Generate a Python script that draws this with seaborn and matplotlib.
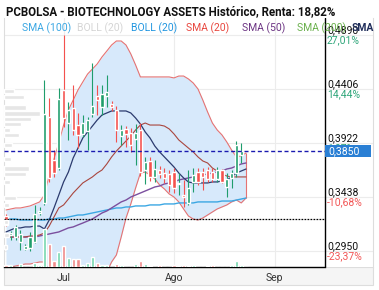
import numpy as np
import matplotlib
matplotlib.use('Agg')
import matplotlib.pyplot as plt
import seaborn as sns
from matplotlib.patches import Rectangle
from matplotlib.transforms import blended_transform_factory

# Sesiones (una por posicion), precios en euros
open_ = [0.3268, 0.3098, 0.3080, 0.3035, 0.2972, 0.2981, 0.3035, 0.3295, 0.3385, 0.4155,
         0.3770, 0.3698, 0.4397, 0.4101, 0.4236, 0.4083, 0.4003, 0.4030, 0.4182, 0.4343,
         0.4245, 0.4343, 0.4272, 0.4218, 0.3985, 0.4048, 0.4012, 0.3958, 0.4039, 0.3680,
         0.3761, 0.3618, 0.3680, 0.3653, 0.3644, 0.3662, 0.3555, 0.3456, 0.3385, 0.3573,
         0.3662, 0.3662, 0.3680, 0.3662, 0.3600, 0.3680, 0.3528, 0.3609, 0.3653, 0.3815,
         0.3850]
close = [0.3187, 0.3116, 0.3170, 0.3107, 0.2999, 0.3080, 0.3286, 0.3313, 0.4182, 0.3609,
         0.3653, 0.4316, 0.4146, 0.4218, 0.4039, 0.3994, 0.4101, 0.4128, 0.4254, 0.4307,
         0.4361, 0.4379, 0.4245, 0.4039, 0.4039, 0.4003, 0.3904, 0.4012, 0.3662, 0.3752,
         0.3618, 0.3689, 0.3644, 0.3609, 0.3546, 0.3519, 0.3564, 0.3438, 0.3519, 0.3635,
         0.3573, 0.3618, 0.3600, 0.3600, 0.3680, 0.3573, 0.3600, 0.3653, 0.3904, 0.3850,
         0.3850]
high = [0.3286, 0.3134, 0.3187, 0.3143, 0.3017, 0.3125, 0.3367, 0.3349, 0.4487, 0.4325,
        0.3859, 0.4415, 0.4890, 0.4290, 0.4442, 0.4191, 0.4173, 0.4155, 0.4639, 0.4442,
        0.4442, 0.4531, 0.4298, 0.4254, 0.4083, 0.4075, 0.4057, 0.4092, 0.4101, 0.3797,
        0.3797, 0.3770, 0.3716, 0.3698, 0.3680, 0.3698, 0.3653, 0.3591, 0.3680, 0.3698,
        0.3698, 0.3698, 0.3707, 0.3698, 0.3707, 0.3689, 0.3653, 0.3680, 0.3940, 0.3922,
        0.3850]
low = [0.3178, 0.3053, 0.3053, 0.2963, 0.2963, 0.2954, 0.3026, 0.3277, 0.3367, 0.3573,
       0.3618, 0.3680, 0.4066, 0.3949, 0.3994, 0.3877, 0.3976, 0.3859, 0.4155, 0.4173,
       0.4173, 0.4245, 0.4209, 0.3931, 0.3904, 0.3886, 0.3842, 0.3725, 0.3627, 0.3555,
       0.3582, 0.3573, 0.3609, 0.3564, 0.3483, 0.3474, 0.3456, 0.3349, 0.3367, 0.3483,
       0.3546, 0.3501, 0.3573, 0.3573, 0.3573, 0.3564, 0.3438, 0.3519, 0.3618, 0.3743,
       0.3850]
# volumen (miles de titulos)
volume = [17, 17, 0, 33, 0, 0, 43, 17, 377, 233,
          60, 150, 210, 93, 83, 83, 23, 43, 100, 43,
          23, 23, 0, 33, 23, 0, 0, 33, 63, 33,
          13, 0, 23, 0, 0, 23, 13, 23, 13, 23,
          0, 0, 13, 23, 0, 0, 0, 23, 63, 23,
          0]

# medias moviles y bandas de Bollinger
sma_fast = [0.3125, 0.3143, 0.3161, 0.3161, 0.3170, 0.3170, 0.3178, 0.3178, 0.3152, 0.3232,
            0.3340, 0.3456, 0.3573, 0.3662, 0.3788, 0.3877, 0.3967, 0.4021, 0.4074, 0.4128,
            0.4173, 0.4191, 0.4209, 0.4209, 0.4209, 0.4209, 0.4191, 0.4146, 0.4092, 0.4021,
            0.3967, 0.3895, 0.3842, 0.3797, 0.3752, 0.3707, 0.3653, 0.3609, 0.3573, 0.3564,
            0.3564, 0.3564, 0.3564, 0.3573, 0.3573, 0.3582, 0.3591, 0.3618, 0.3653, 0.3671,
            0.3689]
sma20 = [0.3080, 0.3080, 0.3080, 0.3080, 0.3080, 0.3089, 0.3089, 0.3098, 0.3116, 0.3178,
         0.3259, 0.3340, 0.3367, 0.3420, 0.3474, 0.3519, 0.3564, 0.3591, 0.3618, 0.3653,
         0.3680, 0.3734, 0.3797, 0.3850, 0.3895, 0.3940, 0.3985, 0.4039, 0.4083, 0.4101,
         0.4083, 0.4083, 0.4083, 0.4074, 0.4048, 0.4003, 0.3949, 0.3913, 0.3877, 0.3842,
         0.3797, 0.3761, 0.3743, 0.3698, 0.3671, 0.3644, 0.3626, 0.3618, 0.3618, 0.3618,
         0.3618]
sma50 = [0.3080, 0.3080, 0.3080, 0.3080, 0.3080, 0.3080, 0.3080, 0.3089, 0.3098, 0.3107,
         0.3116, 0.3125, 0.3143, 0.3161, 0.3170, 0.3188, 0.3205, 0.3223, 0.3241, 0.3268,
         0.3295, 0.3313, 0.3340, 0.3367, 0.3394, 0.3411, 0.3438, 0.3456, 0.3474, 0.3492,
         0.3510, 0.3528, 0.3537, 0.3555, 0.3564, 0.3573, 0.3591, 0.3600, 0.3609, 0.3618,
         0.3627, 0.3636, 0.3644, 0.3653, 0.3662, 0.3671, 0.3689, 0.3698, 0.3716, 0.3734,
         0.3743]
sma100 = [0.3241, 0.3241, 0.3241, 0.3232, 0.3232, 0.3232, 0.3232, 0.3232, 0.3232, 0.3241,
          0.3241, 0.3250, 0.3250, 0.3259, 0.3268, 0.3277, 0.3277, 0.3286, 0.3295, 0.3304,
          0.3313, 0.3322, 0.3331, 0.3340, 0.3340, 0.3349, 0.3349, 0.3358, 0.3358, 0.3358,
          0.3367, 0.3367, 0.3367, 0.3376, 0.3376, 0.3376, 0.3385, 0.3385, 0.3385, 0.3385,
          0.3394, 0.3394, 0.3394, 0.3394, 0.3394, 0.3402, 0.3402, 0.3402, 0.3411, 0.3420,
          0.3429]
boll_up = [0.3322, 0.3331, 0.3340, 0.3340, 0.3349, 0.3358, 0.3376, 0.3394, 0.3456, 0.3636,
           0.3779, 0.3922, 0.4083, 0.4218, 0.4307, 0.4397, 0.4469, 0.4540, 0.4585, 0.4630,
           0.4693, 0.4746, 0.4800, 0.4836, 0.4836, 0.4800, 0.4720, 0.4621, 0.4514, 0.4514,
           0.4514, 0.4514, 0.4514, 0.4514, 0.4514, 0.4505, 0.4522, 0.4522, 0.4496, 0.4460,
           0.4406, 0.4307, 0.4200, 0.4101, 0.4039, 0.3994, 0.3931, 0.3859, 0.3797, 0.3806,
           0.3833]
boll_low = [0.2802, 0.2811, 0.2820, 0.2829, 0.2838, 0.2838, 0.2847, 0.2856, 0.2856, 0.2748,
            0.2730, 0.2713, 0.2659, 0.2632, 0.2632, 0.2641, 0.2650, 0.2650, 0.2650, 0.2668,
            0.2677, 0.2766, 0.2856, 0.2919, 0.3080, 0.3250, 0.3376, 0.3519, 0.3653, 0.3662,
            0.3636, 0.3600, 0.3546, 0.3510, 0.3465, 0.3438, 0.3394, 0.3331, 0.3268, 0.3241,
            0.3232, 0.3250, 0.3277, 0.3304, 0.3331, 0.3349, 0.3367, 0.3394, 0.3411, 0.3385,
            0.3429]

# perfil de volumen por precio (lateral izquierdo)
profile_price = [0.4388, 0.4334, 0.4240, 0.4186, 0.4137, 0.4092, 0.4039, 0.3994, 0.3904,
                 0.3779, 0.3694, 0.3644, 0.3573, 0.3430, 0.3367, 0.3214, 0.3098, 0.2990]
profile_vol = [10, 20, 22, 36, 27, 17, 6, 15, 8, 7, 25, 22, 6, 12, 5, 4, 5, 3]

price_ticks = [0.2950, 0.3438, 0.3922, 0.4406, 0.4890]
price_labels = ['0,2950', '0,3438', '0,3922', '0,4406', '0,4890']
pct_labels = ['-23,37%', '-10,68%', '1,87%', '14,44%', '27,01%']
month_idx = [12, 35, 56]
month_labels = ['Jul', 'Ago', 'Sep']
last_price = 0.3850
start_price = 0.3240

title = 'PCBOLSA - BIOTECHNOLOGY ASSETS Histórico, Renta: 18,82%'
legend_labels = ['SMA (100)', 'BOLL (20)', 'BOLL (20)', 'SMA (20)', 'SMA (50)', 'SMA (200)', 'SMA']
legend_colors = ['#3ba7e3', '#d5d5d5', '#2196e0', '#e8473f', '#6c3483', '#6ab04c', '#1f2d5a']

sns.set_style('white')
plt.rcParams['font.family'] = ['Roboto', 'DejaVu Sans']

W, H = 379, 290
def fx(px):
    return px / W
def fy(py):
    return 1 - py / H

fig = plt.figure(figsize=(W / 100, H / 100), dpi=100)
ax = fig.add_axes([fx(4), fy(267), fx(373) - fx(4), fy(18) - fy(267)])

k = np.arange(len(close))
step = 4.8                      # pixeles por sesion
x0 = (4 - 6) / step
k_end = (325 - 6) / step        # borde derecho de la zona de precios
ax.set_xlim(x0, (373 - 6) / step)
ax.set_ylim(0.2811, 0.5042)

# rejilla
ax.set_yticks(price_ticks)
ax.set_xticks(month_idx, month_labels)
ax.grid(True, color='#ececec', lw=0.8)
ax.set_axisbelow(True)
ax.tick_params(axis='y', length=0, labelleft=False)
ax.tick_params(axis='x', length=0, pad=4, labelsize=7.5, labelcolor='#333333')

# bandas de Bollinger
ax.fill_between(k, boll_low, boll_up, color='#d7e9fb', lw=0, zorder=1)
ax.plot(k, boll_up, color='#e57373', lw=0.8, zorder=1.5)
ax.plot(k, boll_low, color='#e57373', lw=0.8, zorder=1.5)
ax.vlines(k[-1], boll_low[-1], boll_up[-1], color='#e57373', lw=0.8, zorder=1.5)

# medias moviles
sns.lineplot(x=k, y=sma100, ax=ax, color='#3ba7e3', lw=1, zorder=2)
sns.lineplot(x=k, y=sma50, ax=ax, color='#7b4f9e', lw=1, zorder=2)
sns.lineplot(x=k, y=sma20, ax=ax, color='#a9463e', lw=0.8, zorder=2)
sns.lineplot(x=k, y=sma_fast, ax=ax, color='#2c3b6e', lw=0.9, zorder=2)

# velas
o = np.array(open_)
c = np.array(close)
up = c >= o
cols = np.where(up, '#1f9d6c', '#f4514e')
ax.vlines(k, low, high, colors=cols, lw=0.8, zorder=3)
ax.bar(k, np.abs(c - o), bottom=np.minimum(o, c), width=0.66, color=cols, zorder=3)

# ultimo precio y precio inicial
ax.hlines(last_price, x0, k_end, colors='#1a1ab0', linestyles=(0, (2.9, 1.9)), lw=1, zorder=4)
ax.hlines(start_price, x0, k_end, colors='black', linestyles=(0, (1.4, 1)), lw=0.9, zorder=4)
ax.axvline(k_end, color='black', lw=1, zorder=4)

ax.spines['top'].set_visible(False)
ax.spines['left'].set_color('#dddddd')
ax.spines['right'].set_color('#dddddd')
ax.spines['left'].set_linewidth(0.8)
ax.spines['right'].set_linewidth(0.8)
ax.spines['bottom'].set_color('black')
ax.spines['bottom'].set_linewidth(1)
ax.spines['bottom'].set_bounds(x0, k_end)

# volumen
vax = ax.twinx()
vcols = np.where(up, '#74d6ad', '#f08a8a')
vax.bar(k, volume, width=0.66, color=vcols)
vax.set_ylim(0, max(volume) * 249 / 37.7)
vax.axis('off')

# perfil de volumen
pax = ax.inset_axes([0, 0, 1, 1])
pax.barh(profile_price, profile_vol, height=0.0042, color='#e6e6e6')
pax.set_xlim(0, max(profile_vol) * 369 / 36)
pax.set_ylim(ax.get_ylim())
pax.axis('off')
pax.patch.set_alpha(0)

# franja inferior
fig.add_artist(Rectangle((fx(4), fy(285)), fx(373) - fx(4), fy(267) - fy(285),
                         transform=fig.transFigure, fc='#f5f5f5', ec='#dddddd',
                         lw=0.8, zorder=-1))

# etiquetas de precio a la derecha
tr = blended_transform_factory(fig.transFigure, ax.transData)
for v, lab, pct in zip(price_ticks, price_labels, pct_labels):
    ax.text(fx(327), v, lab, transform=tr, va='bottom', ha='left', fontsize=7.5,
            color='#111111', clip_on=False, zorder=6)
    ax.text(fx(327), v, pct, transform=tr, va='top', ha='left', fontsize=7.5,
            color='#2fa67a' if not pct.startswith('-') else '#f25757', clip_on=False, zorder=6)

fig.add_artist(Rectangle((fx(325), fy(157)), fx(371) - fx(325), fy(145) - fy(157),
                         transform=fig.transFigure, fc='#2a7fd4', ec='none', zorder=10))
fig.text(fx(328), fy(151), '0,3850', color='white', fontsize=7.5, va='center', ha='left',
         zorder=11)

# titulo y leyenda
fig.text(fx(6), fy(12), title, fontsize=8.3, fontweight='bold', color='#111111',
         va='center', ha='left')
legend_x = [22, 77, 131, 186, 242, 297, 352]
for lx, lab, col in zip(legend_x, legend_labels, legend_colors):
    fig.text(fx(lx), fy(28), lab, fontsize=7.5, color=col, va='center', ha='left',
             fontweight='bold' if lab == 'SMA' else 'normal')

fig.savefig('out.png', dpi=100)
